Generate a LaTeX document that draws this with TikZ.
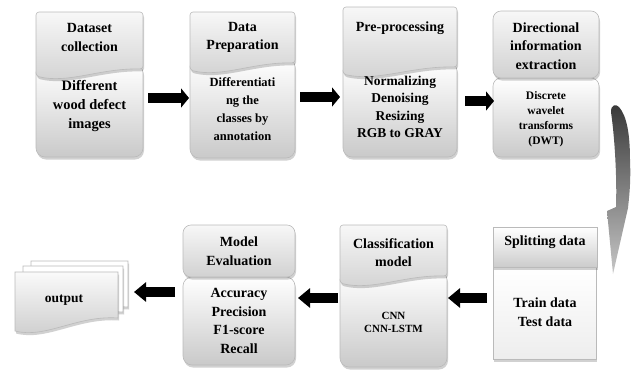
\documentclass[tikz,border=0pt]{standalone}
\usepackage{fontspec}
\setmainfont{Liberation Serif}
\usetikzlibrary{arrows.meta,shadows,calc}

% box with a wavy-bottomed title part on top of a rounded body
% #1 left, #2 right, #3 top, #4 left end of the wave, #5 bottom
\newcommand\waveblock[5]{%
  \path[edge,bodyshade,softshadow,rounded corners=9pt] (#1,#4-12) rectangle (#2,#5);
  \path[edge,headshade,softshadow,rounded corners=3pt]
    (#1,#3) -- (#2,#3) -- (#2,#4-7)
    .. controls ({#1+0.6*(#2-#1)},{#4-8}) and ({#1+0.3*(#2-#1)},{#4+8}) .. (#1,#4) -- cycle;
}
% one sheet of the stacked-document shape
% #1 left, #2 right, #3 top, #4 left end of the wave, #5 fill style
\newcommand\sheet[5]{%
  \path[edge,#5,softshadow]
    (#1,#3) -- (#2,#3) -- (#2,#4-13)
    .. controls ({#1+0.6*(#2-#1)},{#4-16}) and ({#1+0.3*(#2-#1)},{#4+8}) .. (#1,#4) -- cycle;
}

\begin{document}
\begin{tikzpicture}[x=1pt,y=-1pt,
  edge/.style={draw=black!27, line width=0.6pt},
  headshade/.style={top color=black!3, bottom color=black!18},
  bodyshade/.style={top color=white, middle color=black!3, bottom color=black!21},
  plainshade/.style={top color=white, bottom color=black!7},
  softshadow/.style={drop shadow={shadow xshift=1pt, shadow yshift=-2.5pt, opacity=0.3, fill=black!60}},
  frame/.style={minimum width=#1, inner sep=0pt, outer sep=0pt},
  lbl/.style={font=\fontsize{14}{18.5}\selectfont\bfseries, align=center, inner sep=0pt},
  blockarrow/.style={draw=black, line width=9.5pt, -{Triangle[length=8pt,width=19pt]}},
  longhead/.style={draw=black, line width=9.5pt, -{Triangle[length=12pt,width=19pt]}},
]
\useasboundingbox (0,0) rectangle (632,370);

% ---------- upper row ----------
\waveblock{36}{143}{12}{76}{157}
\waveblock{190}{295}{12}{70}{158}
\waveblock{343}{457}{7}{74}{157}
\path[edge,bodyshade,softshadow,rounded corners=8pt] (493,78) rectangle (599,157);
\path[edge,headshade,softshadow,rounded corners=8pt] (493,11) rectangle (599,78);

% ---------- lower row ----------
\path[edge,plainshade,softshadow] (493,267) rectangle (596,359);
\path[edge,top color=white,bottom color=black!20,softshadow] (493,227) rectangle (597,267);
\waveblock{340}{447}{225}{283}{367}
\path[edge,bodyshade,softshadow,rounded corners=9pt] (183,277) rectangle (295,365);
\path[edge,headshade,softshadow,rounded corners=8pt] (183,225) rectangle (295,277);

% stacked output sheets
\sheet{31}{128}{261}{320}{fill=white}
\sheet{23}{123}{266}{325}{fill=white}
\sheet{15}{118}{272}{331}{top color=black!2,bottom color=black!20}

% ---------- frames used to hook the arrows ----------
\node[frame=107pt, minimum height=145pt] (b1) at (89.5,84.5) {};
\node[frame=105pt, minimum height=146pt] (b2) at (242.5,85) {};
\node[frame=114pt, minimum height=150pt] (b3) at (400,82) {};
\node[frame=106pt, minimum height=146pt] (b4) at (546,84) {};
\node[frame=104pt, minimum height=132pt] (b5) at (545,293) {};
\node[frame=107pt, minimum height=142pt] (b6) at (393.5,296) {};
\node[frame=112pt, minimum height=140pt] (b7) at (239,295) {};
\node[frame=113pt, minimum height=70pt] (b8) at (71.5,296) {};

% ---------- texts ----------
\node[lbl] (h1) at (89.5,37.5) {Dataset\\collection};
\node[lbl,font=\fontsize{14.4}{19}\selectfont\bfseries] (t1) at (89.5,106) {Different\\wood defect\\images};
\node[lbl] (h2) at (242.5,37.5) {Data\\Preparation};
\node[lbl,font=\fontsize{12.5}{17.8}\selectfont\bfseries] (t2) at (242.5,109) {Differentiati\\ng the\\classes by\\annotation};
\node[lbl] (h3) at (400,28) {Pre-processing};
\node[lbl,font=\fontsize{13.5}{17.4}\selectfont\bfseries] (t3) at (400,107) {Normalizing\\Denoising\\Resizing\\RGB to GRAY};
\node[lbl] (h4) at (546,46) {Directional\\information\\extraction};
\node[lbl,font=\fontsize{11.5}{15}\selectfont\bfseries] (t4) at (546,119.5) {Discrete\\wavelet\\transforms\\(DWT)};
\node[lbl] (h5) at (545,242) {Splitting data};
\node[lbl,font=\fontsize{14}{19}\selectfont\bfseries] (t5) at (545,312) {Train data\\Test data};
\node[lbl] (h6) at (393.5,252.5) {Classification\\model};
\node[lbl,font=\fontsize{11}{13}\selectfont\bfseries] (t6) at (393.5,322) {CNN\\CNN-LSTM};
\node[lbl] (h7) at (239,251) {Model\\Evaluation};
\node[lbl,font=\fontsize{14}{18.7}\selectfont\bfseries] (t7) at (239,321) {Accuracy\\Precision\\F1-score\\Recall};
\node[lbl,font=\fontsize{13.5}{16}\selectfont\bfseries] (t8) at (64,300) {output};

% ---------- arrows ----------
\coordinate (rowA) at (0,98);
\coordinate (rowB) at (0,97);
\coordinate (rowC) at (0,101);
\coordinate (rowD) at (0,298);
\coordinate (rowE) at (0,292);
\draw[blockarrow] ($(b1.east |- rowA)+(5,0)$) -- ($(b2.west |- rowA)+(-1,0)$);
\draw[blockarrow] ($(b2.east |- rowB)+(5,0)$) -- ($(b3.west |- rowB)+(-3,0)$);
\draw[blockarrow] ($(b3.east |- rowC)+(8,0)$) -- ($(b4.west |- rowC)+(1,0)$);
\draw[longhead] ($(b5.west |- rowD)+(-6,0)$) -- ($(b6.east |- rowD)+(1,0)$);
\draw[longhead] ($(b6.west |- rowD)+(-2,0)$) -- ($(b7.east |- rowD)+(3,0)$);
\draw[longhead] ($(b7.west |- rowE)+(-8,0)$) -- ($(b8.east |- rowE)+(6,0)$);

% curved arrow leading down to the lower row
\path[top color=black!78, bottom color=black!22]
  (611,112) .. controls (611,104) and (616,104) .. (619,107)
  .. controls (627,116) and (630,135) .. (630,160)
  .. controls (631,183) and (629,198) .. (628,208)
  -- (613,274) -- (607,211) -- (616,207)
  .. controls (617,180) and (615,140) .. (611,112) -- cycle;
\end{tikzpicture}
\end{document}
